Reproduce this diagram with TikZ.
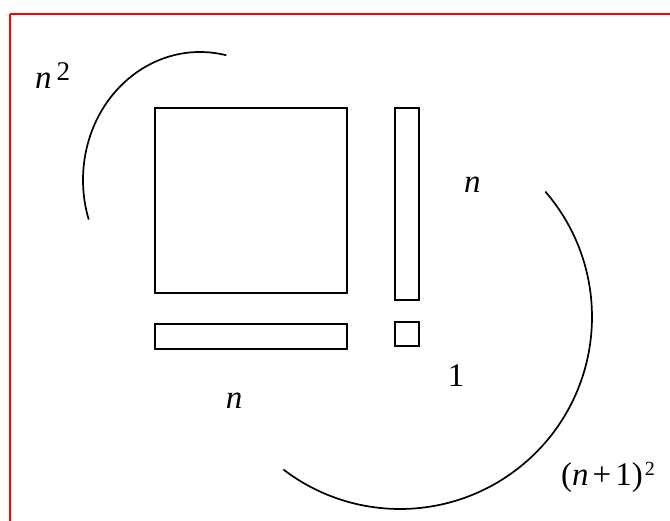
\documentclass[tikz,border=0pt]{standalone}
\usepackage{fontspec}
\setmainfont{Liberation Serif}
\tikzset{
  blockbox/.style={draw=black, line width=1.7pt},
  arcline/.style={draw=black, line width=1.7pt},
  lbl/.style={inner sep=0pt, font=\fontsize{33}{35}\selectfont},
  redframe/.style={draw=red, line width=2pt}
}
\begin{document}
\begin{tikzpicture}[x=1pt,y=-1pt]
\useasboundingbox (0,0) rectangle (670,520);
\clip (0,0) rectangle (670,520);
\fill[white] (0,0) rectangle (670,520);
% frame
\draw[redframe] (10,14) -- (680,14);
\draw[redframe] (10,14) -- (10,530);
% blocks
\draw[blockbox] (155,108) rectangle (347,293);
\draw[blockbox] (395,108) rectangle (419,300);
\draw[blockbox] (155,324) rectangle (347,349);
\draw[blockbox] (395,322) rectangle (419,346);
% arcs
\coordinate (c1) at (200,180);
\coordinate (c2) at (400,317);
\draw[arcline] (c1) ++(-77:117 and 128) arc[start angle=-77, end angle=-198, x radius=117, y radius=128];
\draw[arcline] (c2) ++(-40.8:192) arc[start angle=-40.8, end angle=127.4, radius=192];
% labels
\node[lbl, anchor=base west] (nsq) at (35,88) {\textit{n}\hspace{5pt}\raisebox{8pt}{\fontsize{27}{27}\selectfont 2}};
\node[lbl, anchor=base west] (nr) at (464,192) {\textit{n}};
\node[lbl, anchor=base] (one) at (456,386) {1};
\node[lbl, anchor=base] (nb) at (234,408) {\textit{n}};
\node[lbl, anchor=base west] (np1) at (561,485) {(\textit{n}\hspace{4pt}+\hspace{4pt}1)\hspace{2pt}\raisebox{10pt}{\fontsize{20}{20}\selectfont 2}};
\end{tikzpicture}
\end{document}
